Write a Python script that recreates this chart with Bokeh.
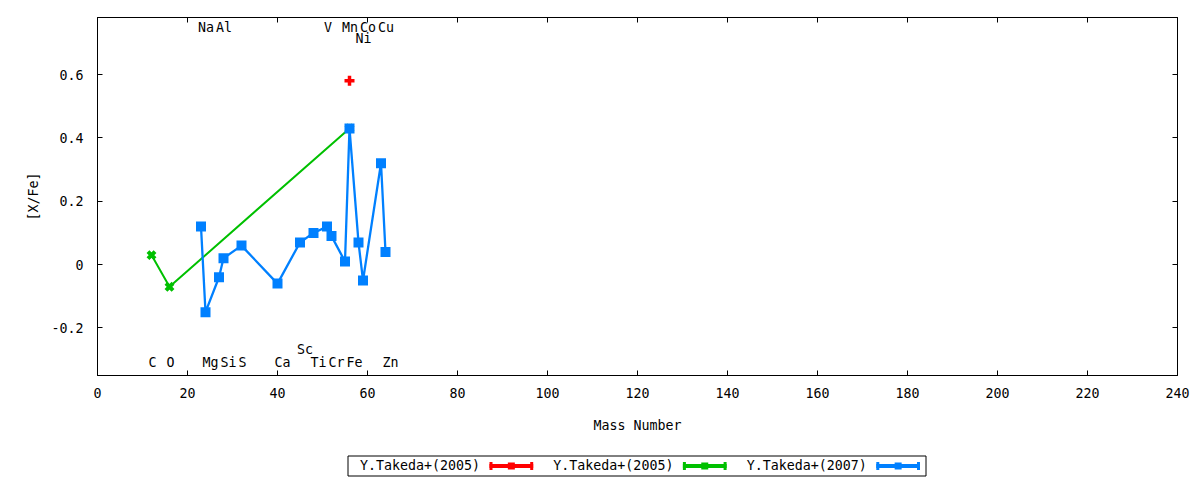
from bokeh.plotting import figure
from bokeh.models import (Range1d, LinearAxis, FixedTicker, ColumnDataSource,
                          CustomJSTickFormatter)
from bokeh.layouts import column
from bokeh.embed import file_html
from bokeh.resources import INLINE
from bokeh.core.properties import value

# ---------------- data ----------------
RED_MASS = [56]
RED_XFE = [0.58]

GREEN_MASS = [12, 16, 56]
GREEN_XFE = [0.03, -0.07, 0.43]

BLUE_MASS = [23, 24, 27, 28, 32, 40, 45, 48, 51, 52, 55, 56, 58, 59, 63, 64]
BLUE_XFE = [0.12, -0.15, -0.04, 0.02, 0.06, -0.06, 0.07, 0.10, 0.12, 0.09,
            0.01, 0.43, 0.07, -0.05, 0.32, 0.04]

SERIES_NAMES = ["Y.Takeda+(2005)", "Y.Takeda+(2005)", "Y.Takeda+(2007)"]
SERIES_COLORS = ["#ff0000", "#00c000", "#0080ff"]

ELEM_NAMES = ["C", "O", "Na", "Mg", "Al", "Si", "S", "Ca", "Sc", "Ti", "V",
              "Cr", "Mn", "Fe", "Ni", "Co", "Cu", "Zn"]
ELEM_MASS = [12, 16, 23, 24, 27, 28, 32, 40, 45, 48, 51, 52, 55, 56, 58, 59, 63, 64]
ELEM_ROW = ["b", "b", "t", "b", "t", "b", "b", "b", "b2", "b", "t", "b", "t",
            "b", "t2", "t", "t", "b"]

X_TICKS = list(range(0, 241, 20))
X_TICK_LABELS = [str(v) for v in X_TICKS]
Y_TICKS = [-0.2, 0, 0.2, 0.4, 0.6]
Y_TICK_LABELS = ["-0.2", "0", "0.2", "0.4", "0.6"]
X_LABEL = "Mass Number"
Y_LABEL = "[X/Fe]"

# ---------------- style ----------------
FONT = "DejaVu Sans Mono"
FS = "13.3px"
ROW_Y = {"t": 0.750, "t2": 0.715, "b": -0.310, "b2": -0.269}

MAIN_H = 444
p = figure(width=1200, height=MAIN_H,
           x_range=Range1d(0, 240), y_range=Range1d(-0.35, 0.78),
           output_backend="svg", toolbar_location=None,
           min_border_left=97, min_border_right=23,
           min_border_top=17, min_border_bottom=MAIN_H - 375)
p.xgrid.visible = False
p.ygrid.visible = False
p.outline_line_color = "black"
p.outline_line_width = 1
p.background_fill_color = "white"
p.border_fill_color = "white"


def fmt(vals, labels):
    return CustomJSTickFormatter(
        args=dict(tvals=vals, tlabels=labels),
        code="const i = tvals.findIndex(t => Math.abs(t - tick) < 1e-9);"
             "return i >= 0 ? tlabels[i] : '';")


def style_axis(ax, vals, labels, show):
    ax.ticker = FixedTicker(ticks=vals, minor_ticks=[])
    ax.major_tick_in = 5
    ax.major_tick_out = 0
    ax.minor_tick_in = 0
    ax.minor_tick_out = 0
    ax.axis_line_color = "black"
    ax.major_tick_line_color = "black"
    ax.major_label_text_font = FONT
    ax.major_label_text_color = "black"
    if show:
        ax.formatter = fmt(vals, labels)
        ax.major_label_text_font_size = FS
    else:
        ax.formatter = fmt(vals, [""] * len(vals))
        ax.major_label_text_font_size = "0px"
        ax.major_label_standoff = 0
    ax.axis_label_text_font = FONT
    ax.axis_label_text_font_size = FS
    ax.axis_label_text_font_style = "normal"
    ax.axis_label_text_color = "black"


bx = p.below[0]
ly = p.left[0]
style_axis(bx, X_TICKS, X_TICK_LABELS, True)
style_axis(ly, Y_TICKS, Y_TICK_LABELS, True)
bx.axis_label = X_LABEL
ly.axis_label = Y_LABEL
bx.major_label_standoff = 12
bx.axis_label_standoff = 17
ly.major_label_standoff = 14
ly.axis_label_standoff = 7

top = LinearAxis()
style_axis(top, X_TICKS, X_TICK_LABELS, False)
p.add_layout(top, "above")
right = LinearAxis()
style_axis(right, Y_TICKS, Y_TICK_LABELS, False)
p.add_layout(right, "right")

# series
p.scatter(RED_MASS, RED_XFE, marker="cross", size=10, line_width=3.5,
          color=SERIES_COLORS[0])
p.line(GREEN_MASS, GREEN_XFE, line_width=2, color=SERIES_COLORS[1])
p.scatter(GREEN_MASS, GREEN_XFE, marker="x", size=10, line_width=4,
          color=SERIES_COLORS[1])
p.line(BLUE_MASS, BLUE_XFE, line_width=2.3, color=SERIES_COLORS[2])
p.scatter(BLUE_MASS, BLUE_XFE, marker="square", size=10, line_width=0,
          color=SERIES_COLORS[2])

# element labels
esrc = ColumnDataSource(dict(x=ELEM_MASS, y=[ROW_Y[r] for r in ELEM_ROW],
                             t=ELEM_NAMES))
p.text(x="x", y="y", text="t", source=esrc, text_font=value(FONT),
       text_font_size=FS, text_align="left", text_baseline="middle",
       x_offset=-3, text_color="black")

# ---------------- legend strip (page-pixel coordinates) ----------------
LEG_H = 480 - MAIN_H
lg = figure(width=1200, height=LEG_H, x_range=Range1d(97, 1177),
            y_range=Range1d(480, MAIN_H), output_backend="svg",
            toolbar_location=None, x_axis_location=None,
            y_axis_location=None, min_border=0)
lg.min_border_left = 97
lg.min_border_right = 23
lg.min_border_top = 0
lg.min_border_bottom = 0
lg.xgrid.visible = False
lg.ygrid.visible = False
lg.outline_line_color = None
lg.background_fill_color = "white"
lg.border_fill_color = "white"

BOX_L, BOX_R, BOX_T, BOX_B = 347.5, 925.5, 455.5, 475.5
LEG_Y = 465.5
LEG_X0 = 489.0
LEG_STEP = 193.4
SAMPLE_W = 43.7

lg.quad(left=[BOX_L], right=[BOX_R], top=[BOX_T], bottom=[BOX_B],
        fill_color=None, line_color="black", line_width=1)

starts = [LEG_X0 + i * LEG_STEP for i in range(len(SERIES_NAMES))]
ends = [s + SAMPLE_W for s in starts]
mids = [(s + e) / 2 for s, e in zip(starts, ends)]
lsrc = ColumnDataSource(dict(x=[s - 9.5 for s in starts], y=[LEG_Y - 0.5] * 3,
                             t=SERIES_NAMES))
lg.text(x="x", y="y", text="t", source=lsrc, text_font=value(FONT),
        text_font_size=FS, text_align="right", text_baseline="middle",
        text_color="black")
for i, c in enumerate(SERIES_COLORS):
    lg.segment(x0=[starts[i]], y0=[LEG_Y], x1=[ends[i]], y1=[LEG_Y],
               line_color=c, line_width=4)
    lg.segment(x0=[starts[i] + 1.5, ends[i] - 1.5], y0=[LEG_Y - 4, LEG_Y - 4],
               x1=[starts[i] + 1.5, ends[i] - 1.5], y1=[LEG_Y + 4, LEG_Y + 4],
               line_color=c, line_width=3)
    lg.scatter([mids[i]], [LEG_Y], marker="square", size=7, color=c,
               line_width=0)

layout = column(p, lg, spacing=0)
open("out.html", "w").write(file_html(layout, INLINE))
